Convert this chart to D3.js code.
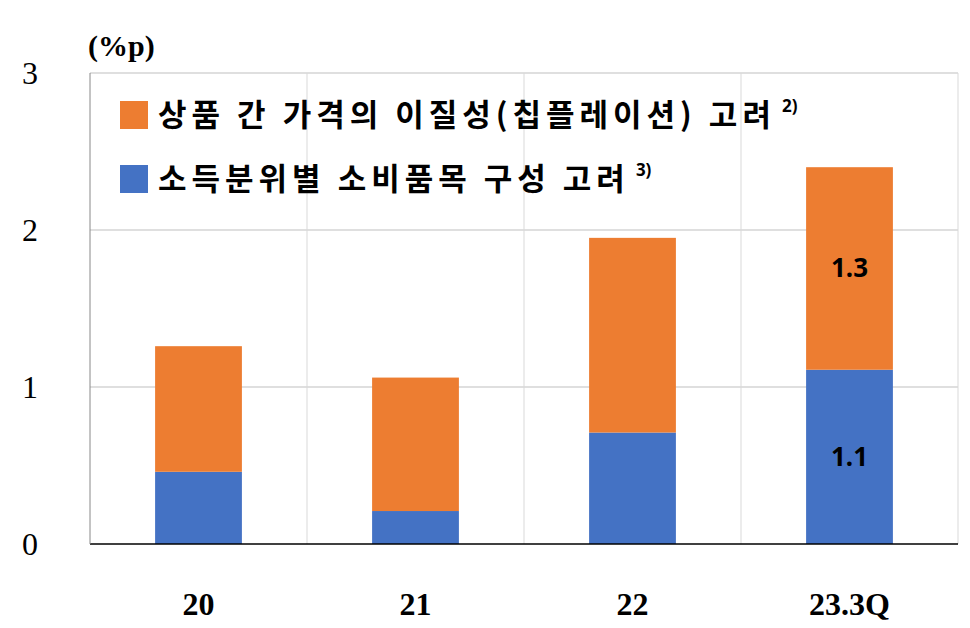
<!DOCTYPE html><html><head><meta charset="utf-8">
<script src="https://cdn.jsdelivr.net/npm/d3@7"></script>
<style>body{margin:0;background:#fff}</style></head><body><svg id="c" width="970" height="628"></svg>
<script>
const categories=["20","21","22","23.3Q"];
const blueVals=[0.46,0.21,0.71,1.11];
const orangeVals=[0.80,0.85,1.24,1.29];
const yTicks=[0,1,2,3];
const legendLabels=["상품 간 가격의 이질성(칩플레이션) 고려","소득분위별 소비품목 구성 고려"];
const legendSups=["2)","3)"];
const svg=d3.select("#c");
const L=90,R=958,T=73,B=544;
const x=d3.scaleBand().domain(categories).range([L,R]).paddingInner(0.6).paddingOuter(0.3);
const xg=d3.scaleBand().domain(categories).range([L,R]);
const y=d3.scaleLinear().domain([0,3]).range([B,T]);
const g=svg.append("g");
yTicks.slice(1).forEach(t=>g.append("line").attr("x1",L).attr("x2",R).attr("y1",y(t)).attr("y2",y(t)).attr("stroke","#bfbfbf"));
categories.slice(1).forEach(c=>g.append("line").attr("x1",xg(c)).attr("x2",xg(c)).attr("y1",T).attr("y2",B).attr("stroke","#d9d9d9"));
g.append("line").attr("x1",R).attr("x2",R).attr("y1",T).attr("y2",B).attr("stroke","#d9d9d9");
categories.forEach((c,i)=>{
 g.append("rect").attr("x",x(c)).attr("width",x.bandwidth()).attr("y",y(blueVals[i])).attr("height",y(0)-y(blueVals[i])).attr("fill","#4472C4");
 const tot=blueVals[i]+orangeVals[i];
 g.append("rect").attr("x",x(c)).attr("width",x.bandwidth()).attr("y",y(tot)).attr("height",y(blueVals[i])-y(tot)).attr("fill","#ED7D31");
});
const li=3;
[[blueVals[li]/2,blueVals[li]],[blueVals[li]+orangeVals[li]/2,orangeVals[li]]].forEach(([p,v])=>
 g.append("text").attr("x",x(categories[li])+x.bandwidth()/2).attr("y",y(p)+9).attr("text-anchor","middle").attr("font-family","Noto Sans").attr("font-weight","bold").attr("font-size",26).text(v.toFixed(1)));
g.append("line").attr("x1",L).attr("x2",R).attr("y1",B).attr("y2",B).attr("stroke","#000").attr("stroke-width",1.5);
g.append("line").attr("x1",L).attr("x2",L).attr("y1",T).attr("y2",B).attr("stroke","#888").attr("stroke-width",1);
yTicks.forEach(t=>g.append("text").attr("x",30).attr("y",y(t)+11).attr("text-anchor","middle").attr("font-family","Liberation Serif").attr("font-size",32).text(t));
categories.forEach(c=>g.append("text").attr("x",xg(c)+xg.bandwidth()/2).attr("y",615).attr("text-anchor","middle").attr("font-family","Liberation Serif").attr("font-weight","bold").attr("font-size",32).text(c));
g.append("text").attr("x",88).attr("y",56).attr("font-family","Liberation Serif").attr("font-weight","bold").attr("font-size",30).text("(%p)");
["#ED7D31","#4472C4"].forEach((col,i)=>{
 const yy=115+i*64;
 g.append("rect").attr("x",120).attr("y",yy-14).attr("width",28).attr("height",28).attr("fill",col);
 const t=g.append("text").attr("x",158).attr("y",yy+11).attr("font-family","Noto Sans CJK KR").attr("font-weight","bold").attr("font-size",31).attr("letter-spacing",5).text(legendLabels[i]);
 t.append("tspan").attr("dx",6).attr("dy",-14).attr("font-size",17).attr("letter-spacing",0).attr("font-family","Noto Sans").text(legendSups[i]);
});
</script></body></html>
